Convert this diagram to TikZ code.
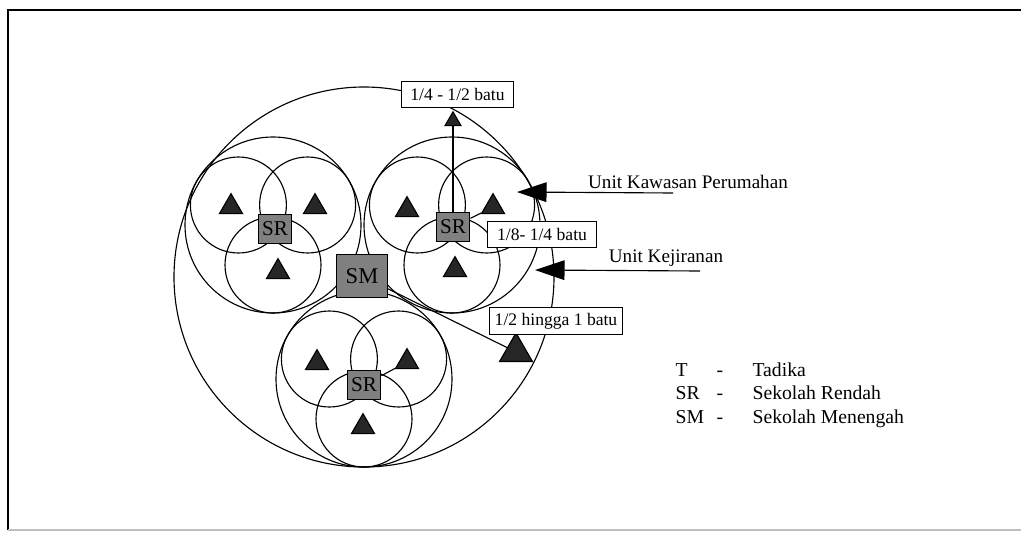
\documentclass[tikz,border=0pt]{standalone}
\usepackage{fontspec}
\setmainfont{Liberation Serif}
\usetikzlibrary{arrows.meta,positioning,shapes.geometric}

\begin{document}
\begin{tikzpicture}[x=0.025cm,y=-0.025cm,line width=0.8pt,>={Triangle[length=21pt,width=14pt]}]
\tikzset{tadika/.style={regular polygon,regular polygon sides=3,draw,fill=black!85,inner sep=0pt,minimum size=19pt},
  school/.style={draw,fill=black!50,inner sep=0pt,minimum width=24pt,minimum height=21pt,font=\fontsize{15}{15}\selectfont},
  dist/.style={draw,fill=white,inner sep=0pt,minimum height=19pt,font=\fontsize{12.5}{13}\selectfont},
  unit/.style={inner sep=0pt,font=\fontsize{13.6}{14}\selectfont},
  key/.style={inner sep=0pt,anchor=base west,font=\fontsize{14}{15}\selectfont}}
\useasboundingbox (0,0) rectangle (1021,533);
\draw[line width=1.2pt] (8,530) -- (8,10) -- (1021,10);
\draw[black!25] (8,530) -- (1021,530);
\draw (364,277) circle[radius=190];
\draw (273,225) circle[radius=88];
\draw (452,225) circle[radius=88];
\draw (364,379) circle[radius=88];
\draw (238.4,205) circle[radius=48];
\draw (307.6,205) circle[radius=48];
\draw (273,265) circle[radius=48];
\draw (417.4,205) circle[radius=48];
\draw (486.6,205) circle[radius=48];
\draw (452,265) circle[radius=48];
\draw (329.4,359) circle[radius=48];
\draw (398.6,359) circle[radius=48];
\draw (364,419) circle[radius=48];
\node[tadika] (tL1) at (231,207) {};
\node[tadika] (tL2) at (315,207) {};
\node[tadika] (tL3) at (278,272) {};
\node[tadika] (tR1) at (407,210) {};
\node[tadika] (tR2) at (493,207) {};
\node[tadika] (tR3) at (455,270) {};
\node[tadika] (tB1) at (317,363) {};
\node[tadika] (tB2) at (407,362) {};
\node[tadika] (tB3) at (363,427) {};
\node[tadika,minimum size=13pt] (tTop) at (453,121) {};
\node[tadika,minimum size=27pt] (tFar) at (516,352) {};
\node[school] (srL) at (275,229) {SR};
\node[school] (srR) at (453,227) {SR};
\node[school] (srB) at (364,385) {SR};
\node[school,minimum width=36pt,minimum height=30pt,font=\fontsize{16}{16}\selectfont] (sm) at (362,276) {SM};
\draw (srR) -- (tTop);
\draw (srR) -- (tR2);
\draw (srB) -- (tB2);
\draw (sm) -- (tFar);
\node[dist,minimum width=80pt] (lblA) at (457.5,94.5) {1/4 - 1/2 batu};
\node[dist,minimum width=78pt] (lblB) at (542,234.5) {1/8- 1/4 batu};
\node[dist,minimum width=94pt] (lblC) at (556,321) {1/2 hingga 1 batu};
\node[unit] (kawasan) at (688,182) {Unit Kawasan Perumahan};
\node[unit] (kejiranan) at (666,258) {Unit Kejiranan};
\coordinate (kawasanEnd) at (673,193);
\coordinate (kawasanTip) at (517,192);
\coordinate (kejirananEnd) at (700,271);
\coordinate (kejirananTip) at (535,270);
\draw[->] (kawasanEnd) -- (kawasanTip);
\draw[->] (kejirananEnd) -- (kejirananTip);
\node[key] (keyT) at (675,376) {T};
\node[key] (keySR) at (675,399) {SR};
\node[key] (keySM) at (675,423) {SM};
\node[key] (dashT) at (716,376) {-};
\node[key] (dashSR) at (716,399) {-};
\node[key] (dashSM) at (716,423) {-};
\node[key] (nameT) at (752,376) {Tadika};
\node[key] (nameSR) at (752,399) {Sekolah Rendah};
\node[key] (nameSM) at (752,423) {Sekolah Menengah};
\end{tikzpicture}
\end{document}
